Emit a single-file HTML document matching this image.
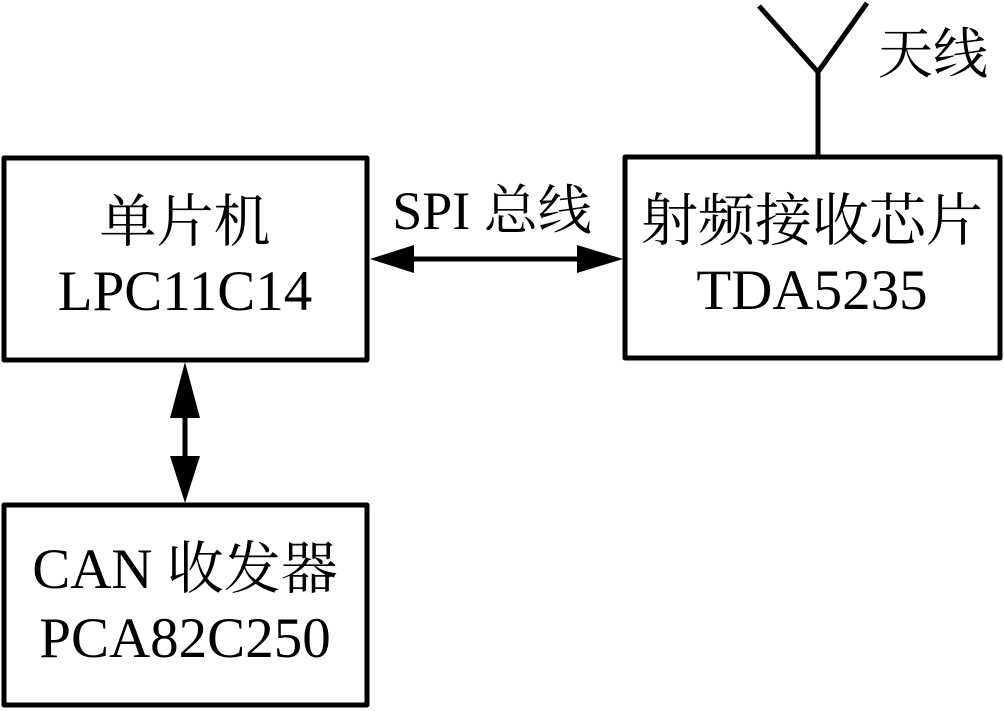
<!DOCTYPE html>
<html><head><meta charset="utf-8"><style>
html,body{margin:0;padding:0;background:#fff;}
svg{display:block;}
.t{font-family:"Liberation Serif","Times New Roman",Times,"Noto Serif CJK SC",serif;font-size:57px;fill:#000;}
</style></head><body>
<svg width="1004" height="711" viewBox="0 0 1004 711" xmlns="http://www.w3.org/2000/svg">
<g fill="none" stroke="#000" stroke-width="5" stroke-linejoin="round">
<rect x="4" y="158" width="363" height="202"/>
<rect x="625" y="157" width="375" height="201"/>
<rect x="4" y="505" width="363" height="200"/>
<line x1="818" y1="157" x2="818" y2="72"/>
<polyline points="759,6 818,72 867,3"/>
<line x1="410" y1="259" x2="580" y2="259"/>
<line x1="185" y1="410" x2="185" y2="460"/>
</g>
<g fill="#000">
<polygon points="370,259 414,245 414,273"/>
<polygon points="623,259 577,245 577,273"/>
<polygon points="185,362 170,418 200,418"/>
<polygon points="185,503 170,456 200,456"/>
</g>
<g class="t" font-family="Liberation Serif, Noto Serif CJK SC, serif">
<text class="t" x="185" y="241" text-anchor="middle">单片机</text>
<text class="t" x="185" y="310" text-anchor="middle">LPC11C14</text>
<text class="t" x="812" y="240" text-anchor="middle">射频接收芯片</text>
<text class="t" x="812" y="309" text-anchor="middle">TDA5235</text>
<text class="t" x="185" y="588" text-anchor="middle">CAN 收发器</text>
<text class="t" x="185" y="657" text-anchor="middle">PCA82C250</text>
<text class="t" x="492" y="229" text-anchor="middle" style="font-size:54px">SPI 总线</text>
<text class="t" x="933" y="73" text-anchor="middle" style="font-size:55px">天线</text>
</g>
</svg>
</body></html>
